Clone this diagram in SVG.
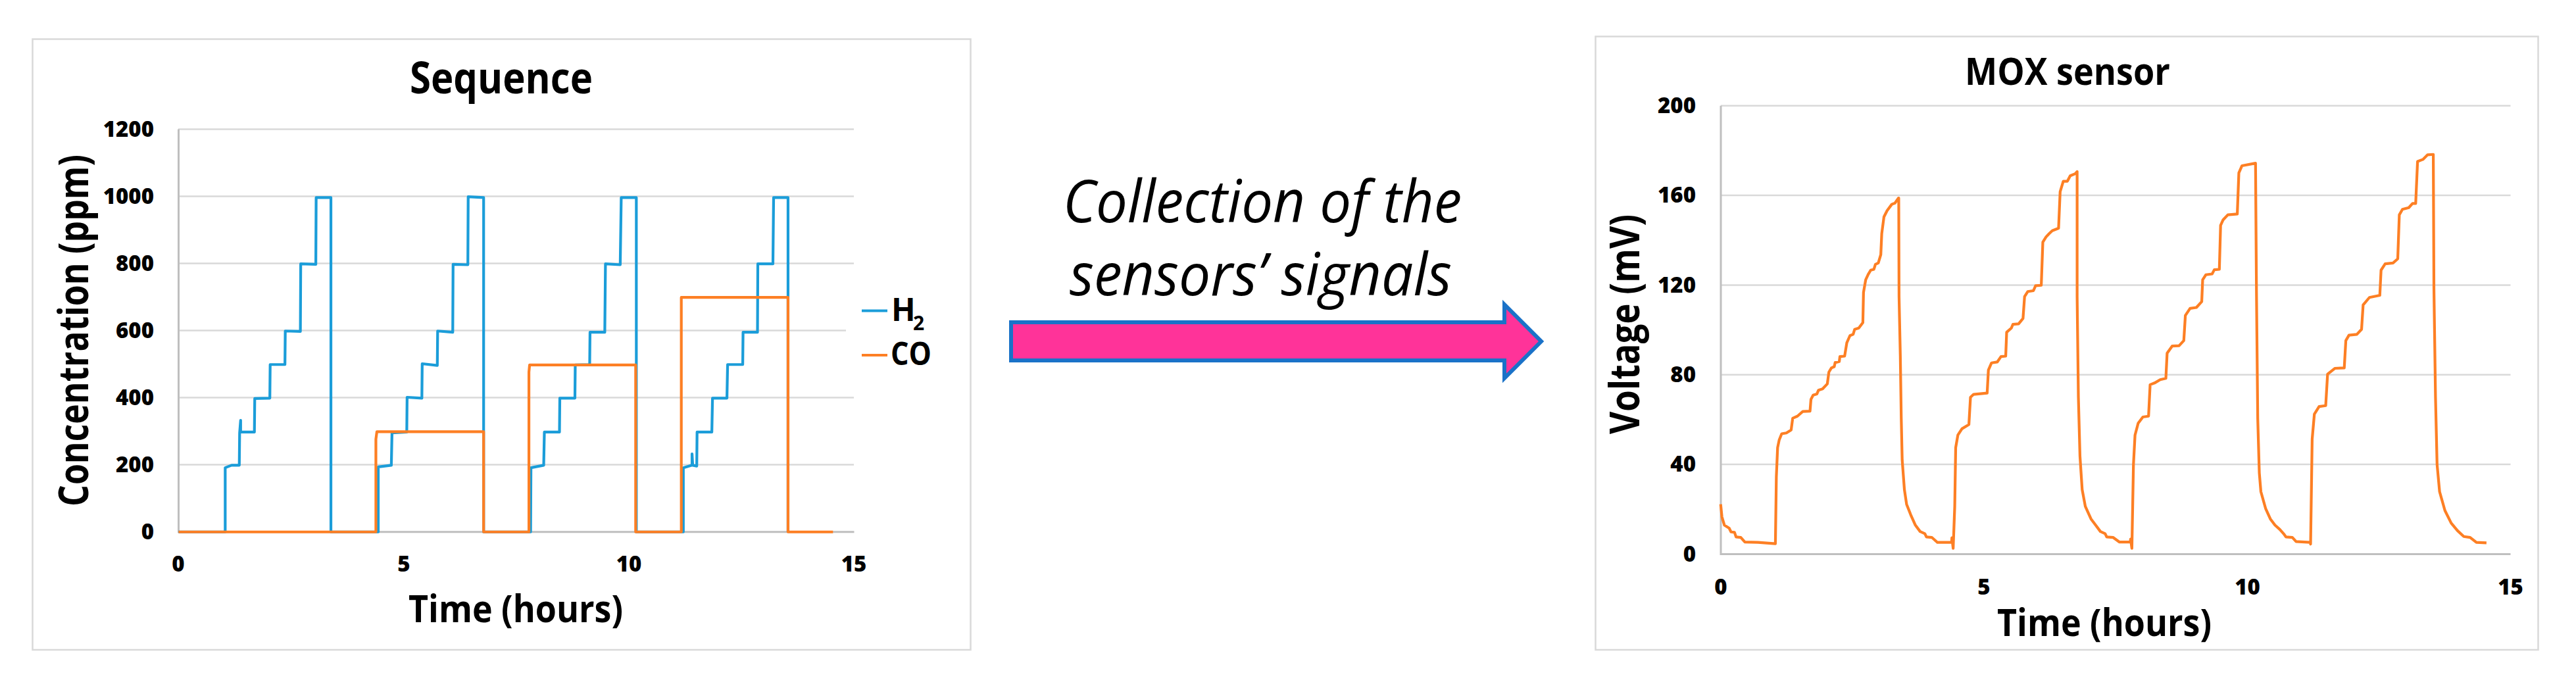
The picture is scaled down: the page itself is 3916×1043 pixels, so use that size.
<svg xmlns="http://www.w3.org/2000/svg" width="3916" height="1043" viewBox="0 0 3916 1043">
<style>
text{font-family:"Open Sans","Noto Sans","Liberation Sans",sans-serif;fill:#000}
.b{font-weight:700}
.tick{font-weight:800;font-size:33px}
.r{text-anchor:end}
.m{text-anchor:middle}
.frame{fill:#fff;stroke:#d9d9d9;stroke-width:2.5}
.grid{stroke:#d9d9d9;stroke-width:2.5;fill:none}
.axis{stroke:#bfbfbf;stroke-width:3;fill:none}
.s{fill:none;stroke-width:4.200;stroke-linejoin:round;vector-effect:non-scaling-stroke}
.h2{stroke:#1b9dd9}
.co{stroke:#fd7f24}
</style>
<rect width="3916" height="1043" fill="#fff"/>
<g id="chart-sequence">
<rect class="frame" x="49.5" y="59.5" width="1426" height="928.5"/>
<path class="grid" d="M271 196.5H1298M271 298.5H1298M271 400.5H1298M271 502.5H1286M271 604.5H1298M271 706.5H1298"/>
<path class="axis" d="M271.500 196.500V808.700H1298.500"/>
<g transform="translate(0 30) scale(.5102 .6378)">
<polyline class="s h2" points="532,1221 671,1221 671,1068 690,1062 713,1062 714,985 717,955 717,983 758,983 759,903 804,902 805,822 849,822 850,742 895,743 896,582 941,583 942,424 986,424 986,1221 1127,1221 1127,1066 1166,1062 1168,985 1212,983 1213,900 1257,902 1258,820 1303,824 1304,742 1349,745 1350,583 1394,584 1395,422 1441,424 1441,1221 1581,1221 1582,1068 1620,1062 1622,983 1667,983 1668,902 1713,902 1714,823 1757,822 1758,745 1802,745 1804,582 1848,584 1851,424 1896,424 1896,1221 2036,1221 2036,1068 2062,1062 2062,1035 2064,1062 2076,1064 2077,983 2121,983 2123,902 2166,902 2168,822 2213,822 2214,745 2257,745 2258,582 2303,582 2305,424 2348,424 2348,1221"/>
<polyline class="s co" points="532,1221 1120,1221 1120,1000 1123,982 1441,982 1441,1221 1576,1221 1576,840 1578,823 1894,823 1894,1221 2030,1221 2030,662 2348,662 2348,1221 2482,1221"/>
</g>
<text class="b" x="623" y="142" font-size="66" textLength="278" lengthAdjust="spacingAndGlyphs">Sequence</text>
<text class="b" x="621" y="946" font-size="58" textLength="326" lengthAdjust="spacingAndGlyphs">Time (hours)</text>
<text class="b" transform="translate(134 770) rotate(-90)" font-size="62" textLength="535" lengthAdjust="spacingAndGlyphs">Concentration (ppm)</text>
<g>
<text class="tick r" x="234" y="207.500">1200</text>
<text class="tick r" x="234" y="309.500">1000</text>
<text class="tick r" x="234" y="411.500">800</text>
<text class="tick r" x="234" y="513.500">600</text>
<text class="tick r" x="234" y="615.500">400</text>
<text class="tick r" x="234" y="717.500">200</text>
<text class="tick r" x="234" y="819.500">0</text>
<text class="tick m" x="271" y="869">0</text>
<text class="tick m" x="614" y="869">5</text>
<text class="tick m" x="956" y="869">10</text>
<text class="tick m" x="1298" y="869">15</text>
</g>
<g id="legend">
<line class="s h2" x1="1310" y1="472.500" x2="1349" y2="472.500"/>
<line class="s co" x1="1310" y1="540" x2="1349" y2="540"/>
<text class="b" x="1355" y="488" font-size="48">H</text>
<text class="b" x="1388" y="502" font-size="30">2</text>
<text class="b" x="1354" y="555" font-size="48" textLength="62" lengthAdjust="spacingAndGlyphs">CO</text>
</g>
</g>
<g id="collection-arrow">
<text font-style="italic" x="1616" y="338" font-size="90" textLength="606" lengthAdjust="spacingAndGlyphs">Collection of the</text>
<text font-style="italic" x="1626" y="449" font-size="90" textLength="581" lengthAdjust="spacingAndGlyphs">sensors’ signals</text>
<path d="M1537 490H2287V463L2343 519L2287 575V548H1537Z" fill="#ff3399" stroke="#1a72c8" stroke-width="6"/>
</g>
<g id="chart-mox">
<rect class="frame" x="2425.500" y="55.500" width="1433" height="932.500"/>
<path class="grid" d="M2616 160.700H3816.500M2616 297H3816.500M2616 433.500H3816.500M2616 569.700H3816.500M2616 706H3816.500"/>
<path class="axis" d="M2616 160.700V842.500H3816.500"/>
<g transform="translate(2400 30) scale(.4783 .6378)">
<polyline class="s co" points="451,1155 455,1185 463,1205 478,1212 484,1221 495,1222 500,1233 515,1234 528,1245 570,1246 625,1249 628,1090 632,1020 637,1002 645,987 660,985 675,978 680,950 695,945 712,934 735,933 738,905 745,895 757,892 762,883 775,880 790,868 795,840 803,830 812,827 815,817 828,815 830,803 845,802 852,770 862,753 872,750 877,738 890,735 903,722 905,650 912,620 920,607 928,597 938,595 943,583 952,580 960,560 963,510 970,470 980,455 995,440 1005,437 1016,425 1017,425 1018,660 1022,800 1025,950 1028,1050 1035,1120 1042,1155 1055,1180 1070,1205 1085,1220 1100,1225 1105,1233 1122,1234 1140,1246 1185,1246 1186,1235 1190,1260 1195,1160 1198,1020 1205,990 1218,975 1240,965 1245,900 1255,893 1298,890 1302,835 1312,818 1330,816 1342,803 1357,802 1360,745 1375,735 1380,726 1398,725 1412,712 1417,660 1427,648 1445,646 1452,634 1470,633 1475,530 1485,518 1495,510 1505,503 1525,497 1530,410 1540,385 1553,385 1562,372 1578,367 1584,362 1584,660 1588,900 1593,1040 1600,1120 1610,1160 1628,1190 1643,1205 1658,1220 1673,1225 1678,1233 1698,1234 1718,1245 1753,1245 1754,1238 1758,1260 1763,1060 1768,990 1778,962 1793,947 1811,945 1816,870 1830,866 1848,858 1866,855 1870,795 1886,778 1908,777 1923,765 1928,705 1943,688 1963,686 1980,672 1983,620 1993,608 2013,606 2020,596 2036,595 2040,490 2048,477 2063,465 2093,463 2098,365 2108,348 2151,342 2154,650 2158,950 2163,1080 2168,1125 2183,1165 2198,1190 2213,1205 2228,1215 2240,1225 2248,1233 2268,1234 2280,1244 2325,1246 2326,1250 2331,1000 2338,940 2353,922 2374,920 2380,845 2403,831 2433,830 2438,765 2448,752 2473,750 2488,738 2493,680 2513,662 2546,657 2550,597 2563,582 2588,580 2603,570 2608,465 2618,452 2638,448 2650,438 2660,438 2666,338 2683,333 2698,322 2716,321 2718,640 2723,900 2728,1060 2736,1125 2753,1170 2773,1200 2793,1218 2813,1232 2833,1234 2853,1246 2885,1247"/>
</g>
<text class="b" x="2987" y="129" font-size="57" textLength="312" lengthAdjust="spacingAndGlyphs">MOX sensor</text>
<text class="b" x="3036" y="967" font-size="58" textLength="326" lengthAdjust="spacingAndGlyphs">Time (hours)</text>
<text class="b" transform="translate(2492 660) rotate(-90)" font-size="62" textLength="334" lengthAdjust="spacingAndGlyphs">Voltage (mV)</text>
<g>
<text class="tick r" x="2578" y="171.700">200</text>
<text class="tick r" x="2578" y="308">160</text>
<text class="tick r" x="2578" y="444.500">120</text>
<text class="tick r" x="2578" y="580.700">80</text>
<text class="tick r" x="2578" y="717">40</text>
<text class="tick r" x="2578" y="853.500">0</text>
<text class="tick m" x="2616" y="904">0</text>
<text class="tick m" x="3016" y="904">5</text>
<text class="tick m" x="3416.500" y="904">10</text>
<text class="tick m" x="3816.500" y="904">15</text>
</g>
</g>
</svg>
